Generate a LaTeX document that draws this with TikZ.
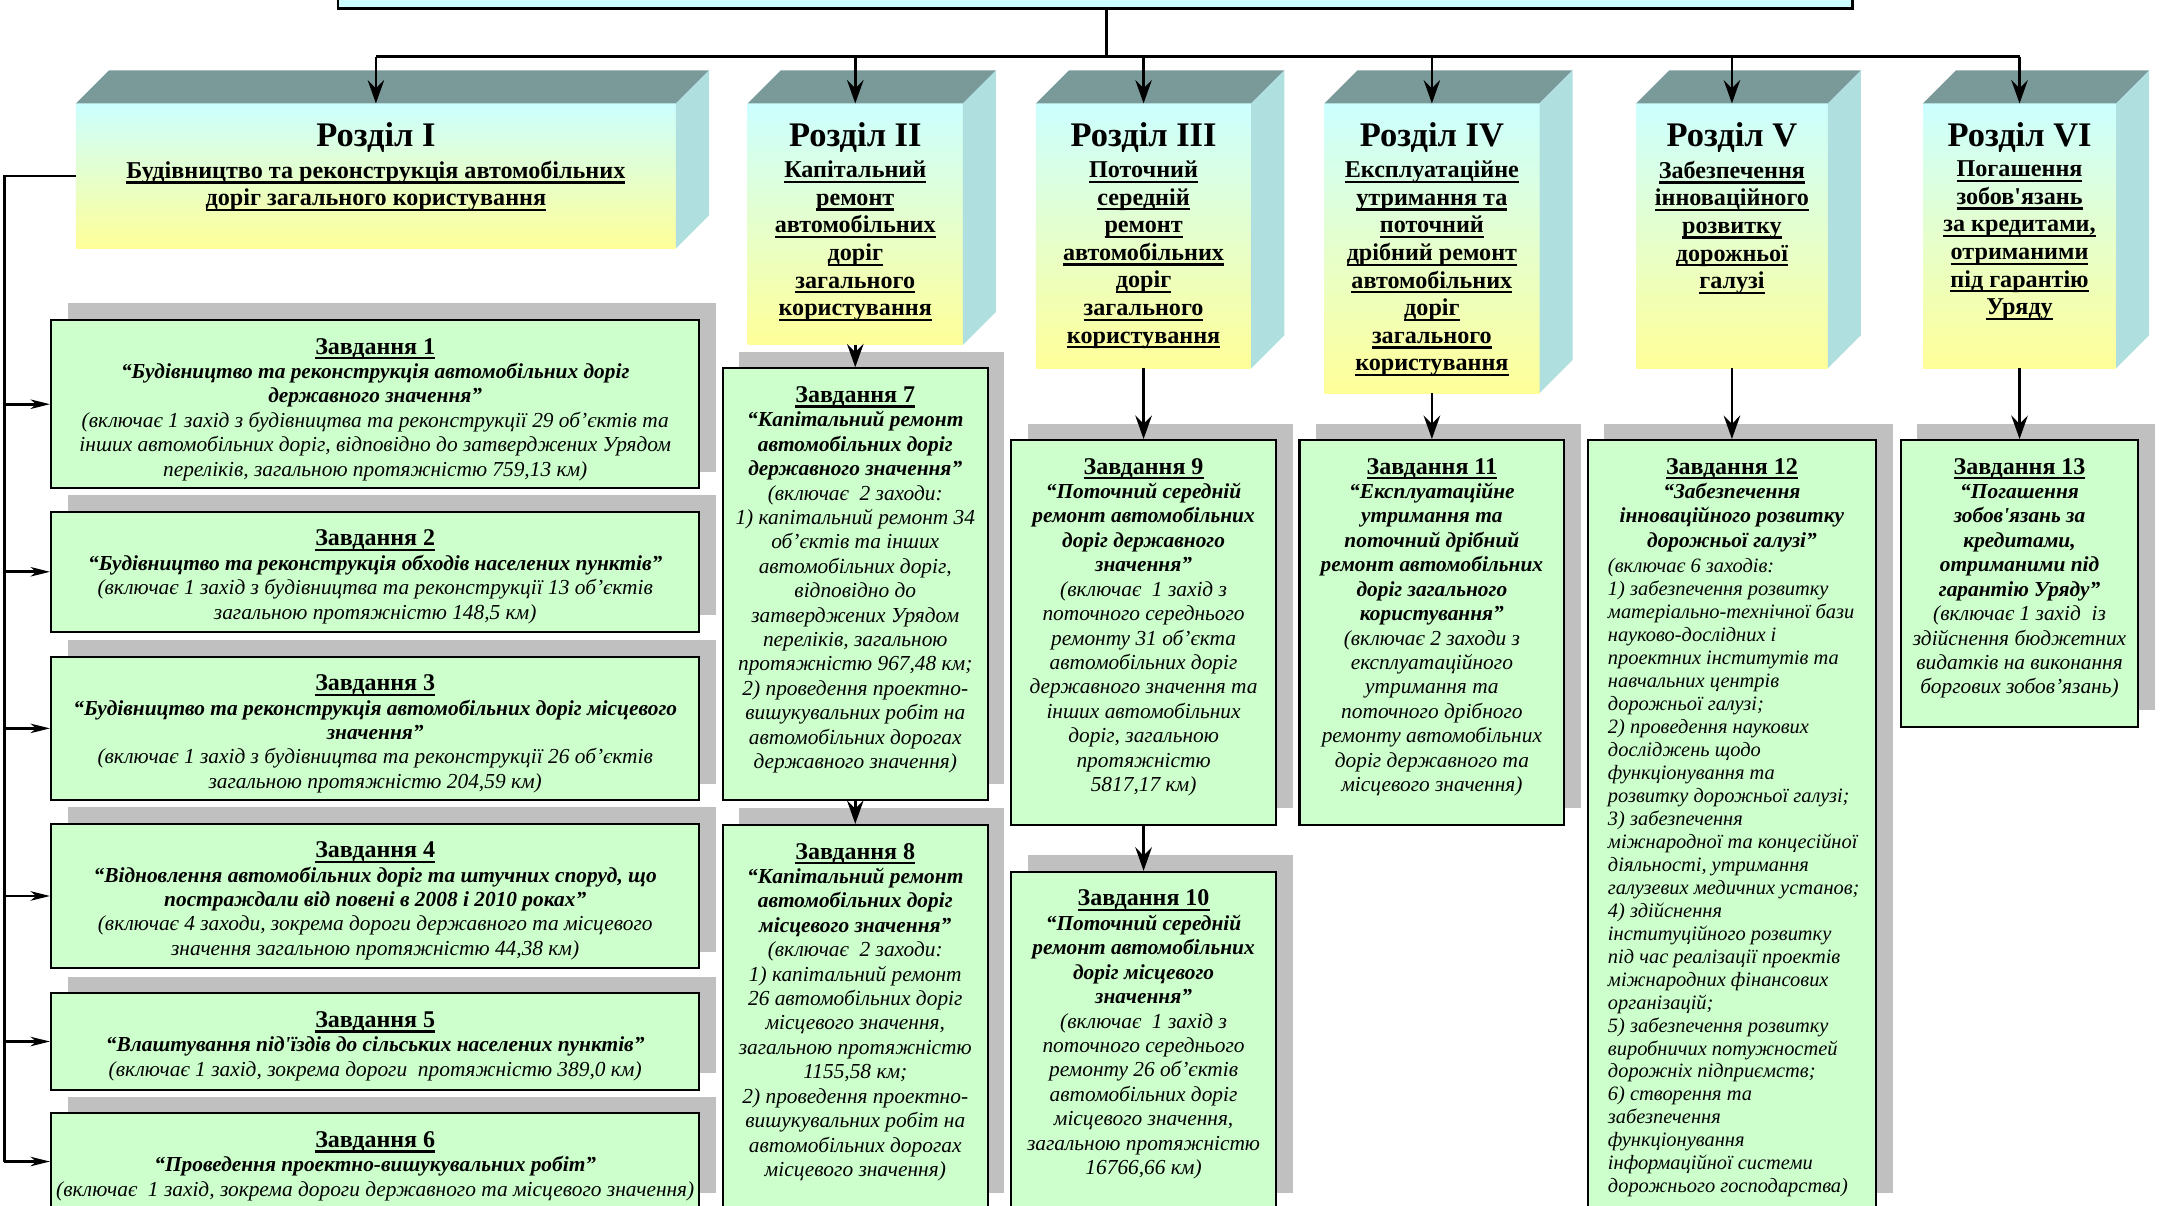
\documentclass[tikz,border=0pt]{standalone}
\usepackage{fontspec}
\setmainfont{Liberation Serif}
\usetikzlibrary{arrows.meta, calc, fit, shadows}

\definecolor{palecyan}{HTML}{CCFFFF}
\definecolor{paleyellow}{HTML}{FFFF99}
\definecolor{roofgray}{HTML}{7A9A9A}
\definecolor{sidecyan}{HTML}{B0DFE0}
\definecolor{taskgreen}{HTML}{CCFFCC}
\definecolor{shadowgray}{HTML}{C0C0C0}

\newcommand{\uln}[1]{\leavevmode\setbox0=\hbox{#1}\rlap{\vrule height -1.1pt depth 1.9pt width \wd0\relax}\box0\relax}
\newcommand{\ttl}[1]{{\fontsize{8.7}{8.85}\selectfont\upshape\bfseries\uln{#1}}}
\newcommand{\apo}{\textquotesingle}

\tikzset{
  topbox/.style={draw=black, line width=0.9pt, fill=palecyan, inner sep=0pt},
  frontface/.style={inner sep=0pt, outer sep=0pt, top color=palecyan, bottom color=paleyellow},
  roofface/.style={fill=roofgray},
  sideface/.style={fill=sidecyan},
  taskbox/.style={draw=black, line width=0.75pt, fill=taskgreen, inner sep=0pt,
    drop shadow={shadow xshift=6pt, shadow yshift=6pt, fill=shadowgray, opacity=1}},
  secthead/.style={anchor=base, inner sep=0pt, font={\fontsize{12.5}{13}\selectfont\bfseries}},
  sectsub/.style={anchor=north, align=center, inner sep=0pt,
    font={\fontsize{8.75}{10}\selectfont\bfseries\lineskiplimit=-5pt}},
  tasktext/.style={anchor=north, align=center, inner sep=0pt,
    font={\fontsize{7.75}{8.85}\selectfont\itshape\lineskiplimit=-5pt}},
  listtext/.style={anchor=north west, align=left, inner sep=0pt,
    font={\fontsize{7.4}{8.33}\selectfont\itshape\lineskiplimit=-5pt}},
  conn/.style={line width=1pt},
  arr/.style={conn, -{Stealth[length=8.5pt, width=6pt, inset=3pt]}},
  sidearr/.style={conn, -{Stealth[length=7pt, width=3.4pt, inset=2pt]}}
}

\begin{document}
\begin{tikzpicture}[x=0.5pt,y=-0.5pt]
\useasboundingbox (0,0) rectangle (1568,874);

%Shape: Rectangle (top block)
\node[topbox, fit={(245,-30) (1343,6)}] (top) {};

%Shape: Cube (sections)
\node[frontface, fit={(55,75) (490,180)}] (s1) {};
\node[frontface, fit={(542,75) (698,250)}] (s2) {};
\node[frontface, fit={(751,75) (907,267)}] (s3) {};
\node[frontface, fit={(960,75) (1116,285)}] (s4) {};
\node[frontface, fit={(1186,75) (1325,267)}] (s5) {};
\node[frontface, fit={(1394,75) (1534,267)}] (s6) {};
\foreach \i in {1,...,6} {
  \fill[roofface] (s\i.north west) -- ++(24,-24) -- ($(s\i.north east)+(24,-24)$) -- (s\i.north east) -- cycle;
  \fill[sideface] (s\i.north east) -- ++(24,-24) -- ($(s\i.south east)+(24,-24)$) -- (s\i.south east) -- cycle;
}

%Shape: Rectangle (tasks)
\node[taskbox, fit={(37,232) (507,354)}] (t1) {};
\node[taskbox, fit={(37,371) (507,458)}] (t2) {};
\node[taskbox, fit={(37,476) (507,580)}] (t3) {};
\node[taskbox, fit={(37,597) (507,702)}] (t4) {};
\node[taskbox, fit={(37,720) (507,790)}] (t5) {};
\node[taskbox, fit={(37,807) (507,877)}] (t6) {};
\node[taskbox, fit={(524,267) (716,580)}] (t7) {};
\node[taskbox, fit={(524,598) (716,877)}] (t8) {};
\node[taskbox, fit={(733,319) (925,598)}] (t9) {};
\node[taskbox, fit={(733,632) (925,877)}] (t10) {};
\node[taskbox, fit={(942,319) (1134,598)}] (t11) {};
\node[taskbox, fit={(1151,319) (1360,877)}] (t12) {};
\node[taskbox, fit={(1378,319) (1550,527)}] (t13) {};

%Straight Lines
\coordinate (bus) at (802,41);
\coordinate (trunk) at (3,0);
\draw[conn] (top.south -| bus) -- (bus);
\draw[conn] (s1.north |- bus) -- (s6.north |- bus);
\foreach \i in {1,...,6} \draw[arr] (s\i.north |- bus) -- (s\i.north);
\draw[conn] (s1.west) -- (s1.west -| trunk) -- (trunk |- t6.west);
\foreach \i in {1,...,6} \draw[sidearr] (trunk |- t\i.west) -- (t\i.west);
\draw[arr] (s2.south) -- (t7.north);
\draw[arr] (t7.south) -- (t8.north);
\draw[arr] (s3.south) -- (t9.north);
\draw[arr] (t9.south) -- (t10.north);
\draw[arr] (s4.south) -- (t11.north);
\draw[arr] (s5.south) -- (t12.north);
\draw[arr] (s6.south) -- (t13.north);

% Text Node
\node[secthead] (s1head) at ($(s1.north)+(0,31)$) {Розділ I};
\node[sectsub] (s1sub) at ($(s1.north)+(0,41.3)$) {\uln{Будівництво та реконструкція автомобільних}\\ \uln{доріг загального користування}};
% Text Node
\node[secthead] (s2head) at ($(s2.north)+(0,31)$) {Розділ II};
\node[sectsub] (s2sub) at ($(s2.north)+(0,41.3)$) {\uln{Капітальний}\\ \uln{ремонт}\\ \uln{автомобільних}\\ \uln{доріг}\\ \uln{загального}\\ \uln{користування}};
% Text Node
\node[secthead] (s3head) at ($(s3.north)+(0,31)$) {Розділ III};
\node[sectsub] (s3sub) at ($(s3.north)+(0,41.3)$) {\uln{Поточний}\\ \uln{середній}\\ \uln{ремонт}\\ \uln{автомобільних}\\ \uln{доріг}\\ \uln{загального}\\ \uln{користування}};
% Text Node
\node[secthead] (s4head) at ($(s4.north)+(0,31)$) {Розділ IV};
\node[sectsub] (s4sub) at ($(s4.north)+(0,41.3)$) {\uln{Експлуатаційне}\\ \uln{утримання та}\\ \uln{поточний}\\ \uln{дрібний ремонт}\\ \uln{автомобільних}\\ \uln{доріг}\\ \uln{загального}\\ \uln{користування}};
% Text Node
\node[secthead] (s5head) at ($(s5.north)+(0,31)$) {Розділ V};
\node[sectsub] (s5sub) at ($(s5.north)+(0,41.3)$) {\uln{Забезпечення}\\ \uln{інноваційного}\\ \uln{розвитку}\\ \uln{дорожньої}\\ \uln{галузі}};
% Text Node
\node[secthead] (s6head) at ($(s6.north)+(0,31)$) {Розділ VI};
\node[sectsub] (s6sub) at ($(s6.north)+(0,41.3)$) {\uln{Погашення}\\ \uln{зобов\apo язань}\\ \uln{за кредитами,}\\ \uln{отриманими}\\ \uln{під гарантію}\\ \uln{Уряду}};

% Text Node
\node[tasktext] (t1txt) at ($(t1.north)+(0,13.5)$) {\ttl{Завдання 1}\\ \textbf{“Будівництво та реконструкція автомобільних доріг}\\ \textbf{державного значення”}\\ (включає 1 захід з будівництва та реконструкції 29 об’єктів та\\ інших автомобільних доріг, відповідно до затверджених Урядом\\ переліків, загальною протяжністю 759,13 км)};
% Text Node
\node[tasktext] (t2txt) at ($(t2.north)+(0,13.5)$) {\ttl{Завдання 2}\\ \textbf{“Будівництво та реконструкція обходів населених пунктів”}\\ (включає 1 захід з будівництва та реконструкції 13 об’єктів\\ загальною протяжністю 148,5 км)};
% Text Node
\node[tasktext] (t3txt) at ($(t3.north)+(0,13.5)$) {\ttl{Завдання 3}\\ \textbf{“Будівництво та реконструкція автомобільних доріг місцевого}\\ \textbf{значення”}\\ (включає 1 захід з будівництва та реконструкції 26 об’єктів\\ загальною протяжністю 204,59 км)};
% Text Node
\node[tasktext] (t4txt) at ($(t4.north)+(0,13.5)$) {\ttl{Завдання 4}\\ \textbf{“Відновлення автомобільних доріг та штучних споруд, що}\\ \textbf{постраждали від повені в 2008 і 2010 роках”}\\ (включає 4 заходи, зокрема дороги державного та місцевого\\ значення загальною протяжністю 44,38 км)};
% Text Node
\node[tasktext] (t5txt) at ($(t5.north)+(0,13.5)$) {\ttl{Завдання 5}\\ \textbf{“Влаштування під\apo їздів до сільських населених пунктів”}\\ (включає 1 захід, зокрема дороги\ \ протяжністю 389,0 км)};
% Text Node
\node[tasktext] (t6txt) at ($(t6.north)+(0,13.5)$) {\ttl{Завдання 6}\\ \textbf{“Проведення проектно-вишукувальних робіт”}\\ (включає\ \ 1 захід, зокрема дороги державного та місцевого значення)};
% Text Node
\node[tasktext] (t7txt) at ($(t7.north)+(0,13.5)$) {\ttl{Завдання 7}\\ \textbf{“Капітальний ремонт}\\ \textbf{автомобільних доріг}\\ \textbf{державного значення”}\\ (включає\ \ 2 заходи:\\ 1) капітальний ремонт 34\\ об’єктів та інших\\ автомобільних доріг,\\ відповідно до\\ затверджених Урядом\\ переліків, загальною\\ протяжністю 967,48 км;\\ 2) проведення проектно-\\ вишукувальних робіт на\\ автомобільних дорогах\\ державного значення)};
% Text Node
\node[tasktext] (t8txt) at ($(t8.north)+(0,13.5)$) {\ttl{Завдання 8}\\ \textbf{“Капітальний ремонт}\\ \textbf{автомобільних доріг}\\ \textbf{місцевого значення”}\\ (включає\ \ 2 заходи:\\ 1) капітальний ремонт\\ 26 автомобільних доріг\\ місцевого значення,\\ загальною протяжністю\\ 1155,58 км;\\ 2) проведення проектно-\\ вишукувальних робіт на\\ автомобільних дорогах\\ місцевого значення)};
% Text Node
\node[tasktext] (t9txt) at ($(t9.north)+(0,13.5)$) {\ttl{Завдання 9}\\ \textbf{“Поточний середній}\\ \textbf{ремонт автомобільних}\\ \textbf{доріг державного}\\ \textbf{значення”}\\ (включає\ \ 1 захід з\\ поточного середнього\\ ремонту 31 об’єкта\\ автомобільних доріг\\ державного значення та\\ інших автомобільних\\ доріг, загальною\\ протяжністю\\ 5817,17 км)};
% Text Node
\node[tasktext] (t10txt) at ($(t10.north)+(0,13.5)$) {\ttl{Завдання 10}\\ \textbf{“Поточний середній}\\ \textbf{ремонт автомобільних}\\ \textbf{доріг місцевого}\\ \textbf{значення”}\\ (включає\ \ 1 захід з\\ поточного середнього\\ ремонту 26 об’єктів\\ автомобільних доріг\\ місцевого значення,\\ загальною протяжністю\\ 16766,66 км)};
% Text Node
\node[tasktext] (t11txt) at ($(t11.north)+(0,13.5)$) {\ttl{Завдання 11}\\ \textbf{“Експлуатаційне}\\ \textbf{утримання та}\\ \textbf{поточний дрібний}\\ \textbf{ремонт автомобільних}\\ \textbf{доріг загального}\\ \textbf{користування”}\\ (включає 2 заходи з\\ експлуатаційного\\ утримання та\\ поточного дрібного\\ ремонту автомобільних\\ доріг державного та\\ місцевого значення)};
% Text Node
\node[tasktext] (t12txt) at ($(t12.north)+(0,13.5)$) {\ttl{Завдання 12}\\ \textbf{“Забезпечення}\\ \textbf{інноваційного розвитку}\\ \textbf{дорожньої галузі”}};
\node[listtext] (t12list) at ($(t12.north west)+(15,86)$) {(включає 6 заходів:\\ 1) забезпечення розвитку\\ матеріально-технічної бази\\ науково-дослідних і\\ проектних інститутів та\\ навчальних центрів\\ дорожньої галузі;\\ 2) проведення наукових\\ досліджень щодо\\ функціонування та\\ розвитку дорожньої галузі;\\ 3) забезпечення\\ міжнародної та концесійної\\ діяльності, утримання\\ галузевих медичних установ;\\ 4) здійснення\\ інституційного розвитку\\ під час реалізації проектів\\ міжнародних фінансових\\ організацій;\\ 5) забезпечення розвитку\\ виробничих потужностей\\ дорожніх підприємств;\\ 6) створення та\\ забезпечення\\ функціонування\\ інформаційної системи\\ дорожнього господарства)};
% Text Node
\node[tasktext] (t13txt) at ($(t13.north)+(0,13.5)$) {\ttl{Завдання 13}\\ \textbf{“Погашення}\\ \textbf{зобов\apo язань за}\\ \textbf{кредитами,}\\ \textbf{отриманими під}\\ \textbf{гарантію Уряду”}\\ (включає 1 захід\ \ із\\ здійснення бюджетних\\ видатків на виконання\\ боргових зобов’язань)};

\end{tikzpicture}
\end{document}
